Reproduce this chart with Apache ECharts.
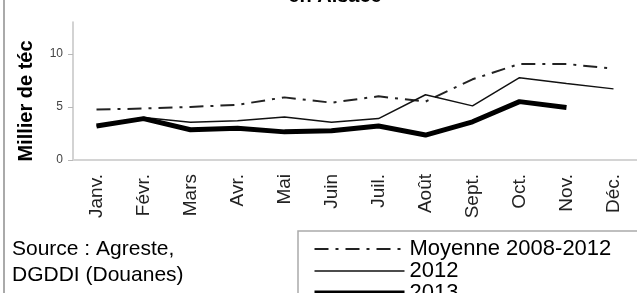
<!DOCTYPE html>
<html>
<head>
<meta charset="utf-8">
<script src="https://cdn.jsdelivr.net/npm/echarts@6/dist/echarts.min.js"></script>
<style>
  html, body { margin: 0; padding: 0; background: #fff; }
  #chart { width: 637px; height: 293px; }
</style>
</head>
<body>
<div id="chart"></div>
<script>
  // valeurs (millier de téc)
  var months = ['Janv.', 'Févr.', 'Mars', 'Avr.', 'Mai', 'Juin', 'Juil.', 'Août', 'Sept.', 'Oct.', 'Nov.', 'Déc.']
  var moyenne = [4.75, 4.85, 5.0, 5.2, 5.9, 5.4, 6.0, 5.5, 7.6, 9.05, 9.05, 8.6]
  var annee2012 = [3.2, 4.0, 3.55, 3.7, 4.05, 3.55, 3.9, 6.15, 5.1, 7.75, 7.2, 6.7]
  var annee2013 = [3.2, 3.9, 2.85, 3.0, 2.65, 2.75, 3.2, 2.35, 3.6, 5.5, 4.95, null]
  var yTicks = [0, 5, 10]

  var font = 'Liberation Sans, Arial, sans-serif'

  var chart = echarts.init(document.getElementById('chart'))
  chart.setOption({
    animation: false,
    backgroundColor: '#fff',
    color: ['#222', '#111', '#000'],
    grid: {
      left: 73,
      top: 22,
      width: 571,
      bottom: 133
    },
    xAxis: {
      type: 'category',
      data: months,
      boundaryGap: true,
      axisLine: { lineStyle: { color: '#d4d4d4', width: 2 } },
      axisTick: { length: 5, lineStyle: { color: '#b8b8b8' } },
      axisLabel: {
        rotate: 90,
        margin: 14,
        fontFamily: font,
        fontSize: 19,
        color: '#222'
      }
    },
    yAxis: {
      type: 'value',
      min: 0,
      max: 13,
      splitLine: { show: false },
      axisLine: { show: true, lineStyle: { color: '#c4c4c4', width: 1.5 } },
      axisTick: { show: true, length: 5, customValues: yTicks, lineStyle: { color: '#b8b8b8' } },
      axisLabel: {
        customValues: yTicks,
        margin: 10,
        fontFamily: font,
        fontSize: 12,
        color: '#444'
      }
    },
    legend: {
      orient: 'vertical',
      left: 312,
      top: 238,
      height: 100,
      padding: 0,
      itemWidth: 90,
      itemHeight: 19,
      itemGap: 0,
      itemStyle: { opacity: 0 },
      textStyle: { fontFamily: font, fontSize: 22, lineHeight: 19, color: '#000' },
      data: [
        { name: 'Moyenne 2008-2012', lineStyle: { width: 2 } },
        { name: '2012', lineStyle: { width: 1.5 } },
        { name: '2013', lineStyle: { width: 5 } }
      ]
    },
    graphic: [
      {
        type: 'line',
        shape: { x1: 4, y1: 0, x2: 4, y2: 293 },
        style: { stroke: '#aaa', lineWidth: 2 }
      },
      {
        // titre coupé en haut de l'image
        type: 'text',
        x: 335, y: 6,
        style: {
          text: 'en Alsace',
          font: 'bold 20px ' + font,
          fill: '#000',
          align: 'center',
          verticalAlign: 'bottom'
        }
      },
      {
        type: 'text',
        x: 26, y: 101,
        rotation: Math.PI / 2,
        style: {
          text: 'Millier de téc',
          font: 'bold 20px ' + font,
          fill: '#000',
          align: 'center',
          verticalAlign: 'middle'
        }
      },
      {
        type: 'text',
        left: 12, top: 236,
        style: {
          text: 'Source : Agreste,\nDGDDI (Douanes)',
          font: '21px ' + font,
          lineHeight: 26,
          fill: '#000'
        }
      },
      {
        type: 'rect',
        shape: { x: 298, y: 231, width: 400, height: 100 },
        style: { fill: 'none', stroke: '#aaa', lineWidth: 1.5 },
        z: -1
      }
    ],
    series: [
      {
        name: 'Moyenne 2008-2012',
        type: 'line',
        symbol: 'none',
        data: moyenne,
        itemStyle: { color: '#222' },
        lineStyle: { color: '#222', width: 2, type: [14, 7, 3, 7] },
        z: 1
      },
      {
        name: '2012',
        type: 'line',
        symbol: 'none',
        data: annee2012,
        itemStyle: { color: '#111' },
        lineStyle: { color: '#111', width: 1.5 },
        z: 2
      },
      {
        name: '2013',
        type: 'line',
        symbol: 'none',
        data: annee2013,
        itemStyle: { color: '#000' },
        lineStyle: { color: '#000', width: 5 },
        z: 3
      }
    ]
  })
</script>
</body>
</html>
